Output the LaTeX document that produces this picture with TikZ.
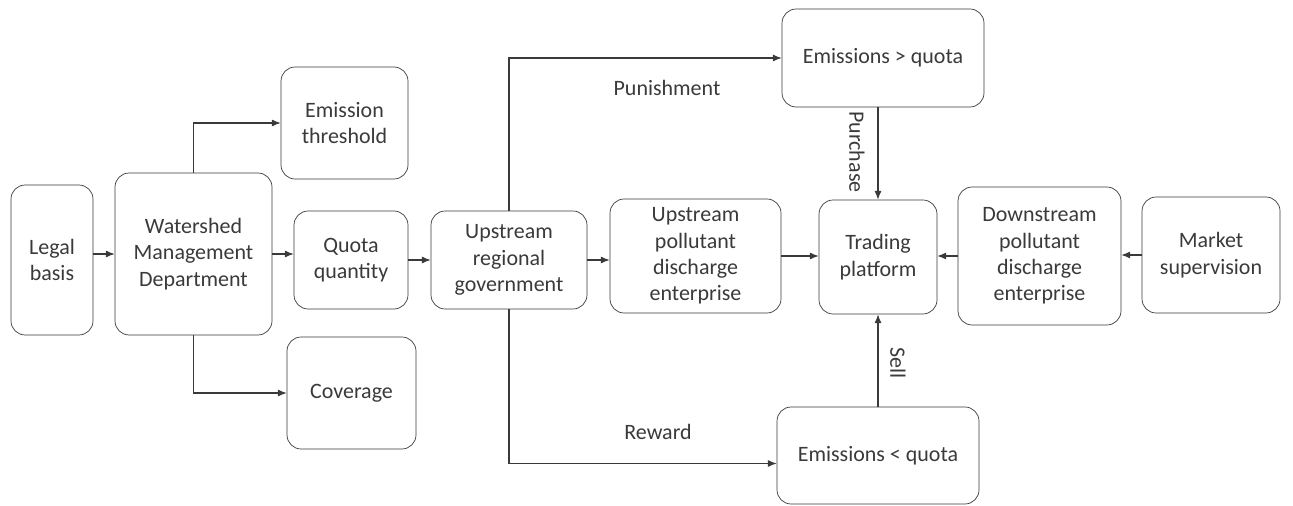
\documentclass[tikz,border=0pt]{standalone}
\usepackage{fontspec}
\setmainfont{Carlito}
\usepackage{tikz}
\usetikzlibrary{arrows.meta,positioning}
\definecolor{ink}{HTML}{3A3A3A}

\begin{document}
\begin{tikzpicture}[x=0.02cm,y=-0.02cm,>={Latex[length=5pt,width=4pt]},
  box/.style={draw=ink,rounded corners=8pt,align=center,text=ink,font=\fontsize{12.5}{15}\selectfont,inner sep=2pt},
  lbl/.style={text=ink,font=\fontsize{12.5}{15}\selectfont},
  link/.style={->,draw=ink,line width=0.6pt}]
  \useasboundingbox (0,0) rectangle (1293,506);
  \node[box,minimum width=1.64cm,minimum height=3.0cm] (legal) at (52,260) {Legal\\basis};
  \node[box,minimum width=3.14cm,minimum height=3.24cm] (wmd) at (193.5,254) {Watershed\\Management\\Department};
  \node[box,minimum width=2.54cm,minimum height=2.24cm] (thr) at (344.5,123) {Emission\\threshold};
  \node[box,minimum width=2.28cm,minimum height=1.96cm] (quota) at (351,260) {Quota\\quantity};
  \node[box,minimum width=2.58cm,minimum height=2.24cm] (cov) at (351.5,393) {Coverage};
  \node[box,minimum width=3.12cm,minimum height=1.96cm] (gov) at (509,260) {Upstream\\regional\\government};
  \node[box,minimum width=3.42cm,minimum height=2.28cm] (upe) at (695.5,256) {Upstream\\pollutant\\discharge\\enterprise};
  \node[box,minimum width=4.04cm,minimum height=1.96cm] (over) at (883,58) {Emissions > quota};
  \node[box,minimum width=2.36cm,minimum height=2.28cm] (trade) at (878,257) {Trading\\platform};
  \node[box,minimum width=4.04cm,minimum height=1.94cm] (under) at (878,455.5) {Emissions < quota};
  \node[box,minimum width=3.26cm,minimum height=2.76cm] (dpe) at (1039.5,256) {Downstream\\pollutant\\discharge\\enterprise};
  \node[box,minimum width=2.76cm,minimum height=2.32cm] (mkt) at (1211,255) {Market\\supervision};
  \draw[link] (wmd.west -| legal.east) -- (wmd.west);
  \draw[link] (wmd.north) |- (thr.west);
  \draw[link] (wmd.south) |- (cov.west);
  \draw[link] (wmd.east) -- (wmd.east -| quota.west);
  \draw[link] (quota.east) -- (quota.east -| gov.west);
  \draw[link] (gov.north) |- (over.west);
  \draw[link] (gov.south) |- ([yshift=-0.16cm]under.west);
  \draw[link] (gov.east) -- (gov.east -| upe.west);
  \draw[link] (upe.east) -- (upe.east -| trade.west);
  \draw[link] (trade.north |- over.south) -- (trade.north);
  \draw[link] (under.north) -- (trade.south);
  \draw[link] (dpe.west) -- (dpe.west -| trade.east);
  \draw[link] (mkt.west) -- (mkt.west -| dpe.east);
  \node[lbl] (pun) at (667,88) {Punishment};
  \node[lbl] (rew) at (658,432) {Reward};
  \node[lbl,rotate=-90] (pur) at (857,152) {Purchase};
  \node[lbl,rotate=-90] (sell) at (898,363) {Sell};
\end{tikzpicture}
\end{document}
